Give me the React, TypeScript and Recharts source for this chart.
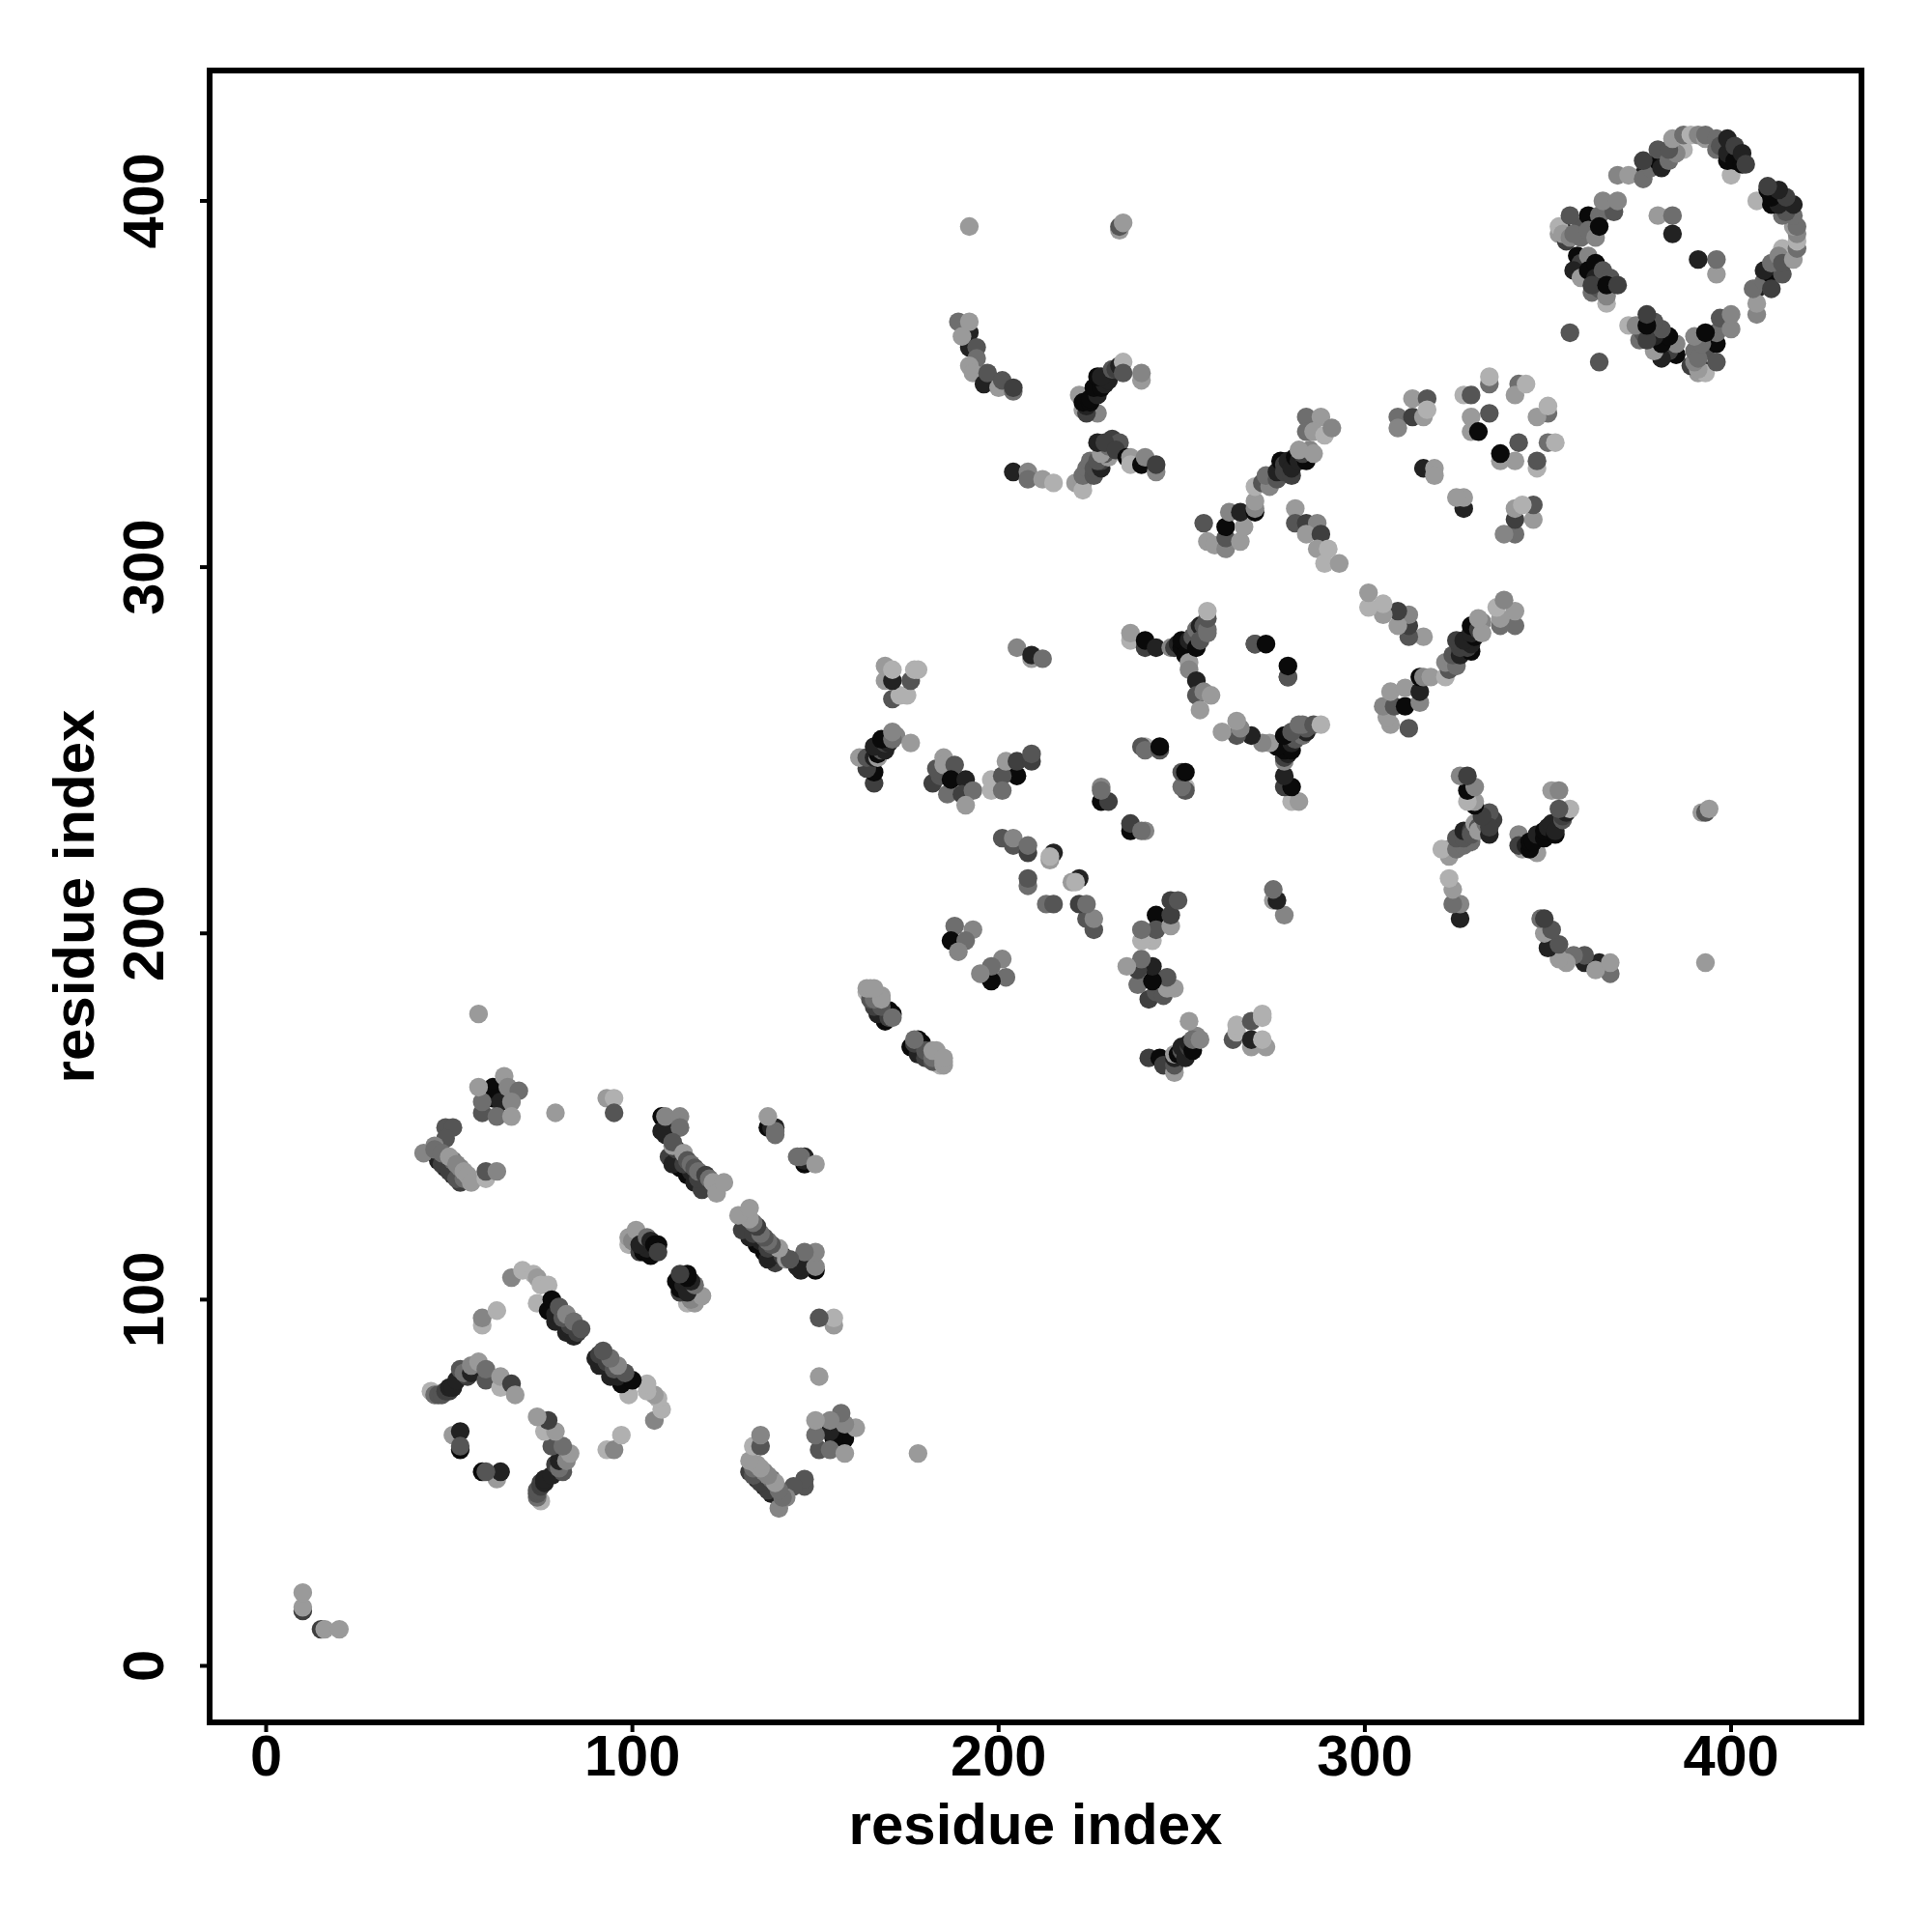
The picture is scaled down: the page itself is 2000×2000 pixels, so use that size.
import React from 'react';
import { ScatterChart, Scatter, XAxis, YAxis, ReferenceArea } from 'recharts';

// contact map, symmetric: each pair [i, j, level] is drawn at (i,j) and (j,i)
// level 0 = darkest, 7 = lightest
type Pair = [number, number, number];

const tickValues = [0, 100, 200, 300, 400];
const axisDomain = [-15.43, 435.6];
const axisTitle = 'residue index';
const greyLevels = ['#0a0a0a', '#222222', '#3f3f3f', '#555555', '#6e6e6e', '#858585', '#9a9a9a', '#b0b0b0'];

const nTerminal: Pair[] = [[10, 15, 2], [10, 16, 6], [10, 20, 6]];

const sheetA: Pair[] = [
  [47, 138, 1], [49, 136, 1], [51, 134, 1], [53, 132, 2], [48, 137, 2], [50, 135, 2], [52, 133, 3],
  [49, 147, 3], [51, 147, 3], [49, 144, 3],
  [43, 140, 5], [46, 142, 5], [46, 141, 4], [48, 140, 4], [51, 138, 4], [54, 133, 4], [53, 136, 5],
  [50, 139, 6], [52, 137, 5], [54, 135, 6], [55, 134, 6], [56, 132, 6],
  [60, 133, 7], [60, 135, 3], [63, 135, 5],
  [62, 158, 0], [62, 155, 0], [64, 154, 1], [59, 151, 3], [59, 154, 4], [63, 150, 4], [58, 158, 6],
  [65, 161, 6], [66, 158, 5], [69, 157, 4], [67, 154, 5], [67, 150, 6],
  [58, 178, 6], [79, 151, 6], [93, 155, 6], [95, 155, 7], [95, 151, 3],
];

const sheetB: Pair[] = [
  [108, 150, 0], [108, 146, 1], [111, 146, 1], [109, 145, 1], [113, 136, 0], [115, 134, 0], [117, 132, 1],
  [119, 130, 2], [110, 139, 2], [111, 137, 1], [112, 138, 1], [116, 135, 1], [118, 133, 2], [112, 141, 2],
  [114, 137, 2], [109, 150, 5], [113, 150, 5], [113, 147, 4], [111, 142, 6],
  [111, 143, 3], [114, 140, 6], [115, 138, 3], [116, 137, 4], [117, 136, 3], [118, 135, 4], [120, 134, 2],
  [121, 133, 4], [122, 132, 6], [123, 129, 6], [125, 132, 6],
  [137, 147, 0], [138, 147, 1], [139, 147, 1], [139, 146, 4], [139, 145, 4], [137, 150, 6],
];

const sheetC: Pair[] = [
  [67, 106, 5], [74, 99, 7], [70, 108, 7], [73, 107, 7], [74, 106, 6], [75, 104, 7], [77, 104, 7],
  [77, 97, 0], [79, 94, 1], [82, 91, 1], [84, 90, 1], [79, 96, 1], [83, 92, 1], [78, 100, 0], [85, 91, 2],
  [83, 93, 2], [81, 95, 3], [80, 98, 3], [82, 96, 5], [84, 94, 4], [86, 92, 3],
  [45, 75, 7], [46, 74, 4], [47, 74, 3], [48, 74, 3], [49, 75, 2], [50, 75, 2], [50, 76, 1], [51, 76, 1],
  [52, 78, 1], [53, 81, 3], [55, 79, 2], [54, 80, 4], [56, 80, 1], [56, 82, 5], [60, 78, 3],
  [58, 83, 6], [60, 81, 4], [64, 76, 7], [64, 79, 6], [67, 77, 2], [68, 74, 6],
  [51, 63, 6], [53, 59, 0], [53, 64, 1], [53, 60, 3], [59, 93, 7], [59, 95, 5], [63, 97, 7],
  [99, 115, 7], [99, 117, 6], [100, 116, 5], [101, 119, 6], [102, 113, 2], [103, 113, 0], [105, 112, 0],
  [104, 114, 1], [102, 115, 1], [104, 117, 4], [105, 116, 1], [106, 115, 0], [107, 115, 0], [107, 113, 2],
];

const sheetD: Pair[] = [
  [164, 184, 7], [170, 179, 0], [169, 176, 0], [171, 178, 0], [167, 178, 1], [168, 178, 1], [166, 180, 2],
  [170, 177, 2], [168, 180, 3], [165, 182, 3], [166, 182, 4],
  [164, 185, 6], [165, 185, 6], [168, 183, 6], [168, 182, 6], [166, 185, 6], [171, 177, 4],
  [188, 202, 4], [187, 198, 0], [193, 201, 5], [191, 198, 4], [189, 195, 5],
  [205, 278, 5], [209, 275, 6], [209, 276, 1], [212, 275, 4],
  [169, 273, 6], [169, 269, 6], [171, 264, 3], [173, 265, 7], [175, 265, 7], [171, 269, 1], [176, 269, 3],
  [171, 272, 7], [177, 272, 7], [178, 272, 7],
];

const sheetE: Pair[] = [
  [166, 241, 2], [166, 244, 0], [164, 245, 2], [162, 248, 6], [164, 248, 3], [166, 248, 1], [167, 248, 6],
  [167, 249, 0], [168, 250, 3], [169, 250, 1],
  [166, 251, 1], [169, 252, 2], [170, 252, 1], [168, 253, 0], [172, 254, 5], [171, 253, 4], [171, 255, 5], [176, 252, 6],
  [182, 241, 2], [184, 243, 3], [183, 245, 3], [185, 248, 6], [185, 246, 6], [188, 246, 3], [186, 238, 4],
  [187, 242, 0], [191, 242, 1], [190, 238, 2], [193, 239, 4], [191, 235, 6],
  [198, 242, 7], [198, 239, 7], [205, 243, 0], [201, 243, 3], [201, 239, 4], [202, 247, 6], [205, 247, 2],
  [209, 247, 2], [209, 249, 3],
  [215, 222, 1], [214, 220, 6], [201, 226, 3], [204, 224, 3], [204, 226, 5], [208, 222, 2], [208, 224, 4],
  [214, 221, 7], [208, 213, 4], [208, 215, 3],
  [228, 236, 0], [230, 236, 2], [228, 240, 5], [228, 239, 4],
  [240, 251, 7], [239, 251, 3], [240, 250, 4], [244, 250, 3], [244, 251, 0],
];

const sheetF: Pair[] = [
  [236, 280, 7], [236, 282, 6], [240, 278, 2], [240, 280, 0], [243, 278, 1], [247, 278, 5], [248, 278, 2],
  [249, 279, 1], [250, 278, 0], [250, 280, 0],
  [251, 276, 0], [252, 274, 6], [252, 272, 5], [252, 280, 1], [253, 281, 3], [254, 278, 0], [254, 283, 4],
  [255, 284, 1], [255, 280, 3], [256, 284, 3], [257, 283, 4], [257, 282, 4],
  [257, 286, 3], [257, 288, 7],
  [254, 269, 1], [254, 265, 3], [255, 261, 6], [256, 266, 5], [258, 265, 6],
  [270, 279, 2], [270, 279, 3], [273, 279, 0],
];

const sheetG: Pair[] = [
  [204, 326, 1], [208, 326, 5], [208, 324, 4], [212, 324, 6], [215, 323, 7],
  [221, 323, 6], [223, 323, 6], [223, 321, 7], [223, 325, 4], [224, 327, 4], [225, 328, 4], [225, 329, 4],
  [226, 325, 3], [226, 327, 3], [228, 327, 1], [228, 329, 2],
  [227, 329, 3], [230, 330, 6], [229, 331, 3], [228, 331, 6], [230, 333, 4], [231, 335, 2], [233, 334, 3],
  [227, 334, 1], [229, 334, 2], [232, 332, 2], [235, 330, 0], [236, 330, 6],
  [236, 328, 7], [239, 328, 0], [240, 330, 5], [243, 326, 5], [243, 328, 2],
  [223, 343, 6], [222, 347, 6], [227, 342, 5], [224, 342, 2], [224, 344, 1], [223, 345, 0], [225, 345, 0],
  [225, 346, 0], [227, 347, 1], [226, 349, 0], [228, 349, 0], [229, 350, 1], [230, 351, 1],
  [227, 352, 0], [228, 352, 1], [231, 354, 3], [232, 354, 2], [233, 355, 1], [234, 356, 7], [234, 353, 3],
  [239, 351, 6], [239, 353, 5],
  [192, 360, 1], [192, 364, 1], [189, 367, 4], [190, 363, 6], [192, 367, 6], [194, 360, 3], [194, 357, 4],
  [192, 355, 6], [193, 353, 6], [196, 350, 1], [197, 353, 3], [200, 349, 6], [201, 351, 3], [204, 348, 4], [204, 349, 2],
  [192, 393, 6], [233, 392, 6], [233, 393, 3], [234, 394, 6],
];

const sheetH: Pair[] = [
  [256, 312, 3], [257, 307, 6], [259, 306, 6], [262, 305, 5], [262, 308, 3], [262, 311, 0], [263, 315, 5],
  [266, 307, 6], [267, 311, 6], [266, 315, 1], [270, 315, 0], [270, 316, 5], [270, 318, 6], [270, 322, 7],
  [272, 323, 3], [274, 322, 5], [275, 324, 5], [273, 325, 4], [276, 324, 3], [276, 326, 1], [277, 329, 0],
  [278, 328, 2], [278, 326, 2], [279, 329, 1], [280, 325, 2], [280, 327, 1], [281, 330, 0], [282, 329, 1],
  [284, 329, 0], [283, 331, 2], [285, 332, 5],
  [282, 332, 6], [286, 331, 6],
  [284, 341, 4], [288, 341, 6], [284, 337, 4], [286, 337, 6], [289, 336, 7], [291, 338, 5],
  [281, 316, 6], [281, 312, 3], [284, 312, 2], [287, 312, 5], [284, 309, 6], [288, 309, 2], [287, 305, 6],
  [290, 305, 7], [289, 301, 7], [293, 301, 6],
];

const sheetI: Pair[] = [
  [309, 341, 4], [309, 338, 5], [313, 341, 2], [313, 346, 6], [316, 341, 6], [317, 346, 3], [317, 343, 7],
  [316, 327, 1], [319, 327, 6], [319, 325, 6],
  [327, 347, 7], [329, 347, 3], [334, 350, 4], [334, 352, 7], [342, 350, 4], [341, 347, 6], [344, 350, 7],
  [329, 341, 6], [334, 342, 3], [329, 337, 6], [331, 337, 0],
];

const ring: Pair[] = [
  [376, 407, 1], [369, 407, 5], [372, 407, 6], [376, 406, 4], [378, 409, 4], [380, 411, 0], [376, 411, 2],
  [381, 409, 1], [380, 414, 3], [383, 411, 4], [387, 414, 7], [385, 413, 5], [383, 414, 3], [384, 417, 6],
  [387, 418, 4], [389, 418, 7], [391, 418, 5], [393, 417, 6], [393, 418, 4],
  [400, 407, 7], [396, 414, 4], [396, 417, 4], [397, 415, 3], [399, 411, 0], [399, 413, 1], [399, 417, 1],
  [401, 411, 0], [401, 415, 2], [403, 410, 0], [403, 413, 1], [404, 410, 2],
  [353, 391, 6], [355, 389, 2], [354, 392, 1], [353, 393, 7], [354, 391, 6], [356, 390, 5], [359, 393, 3],
  [359, 390, 4], [361, 396, 0], [356, 396, 3], [357, 391, 4], [361, 392, 4], [363, 390, 5],
  [364, 396, 4], [364, 393, 0], [366, 398, 4], [368, 397, 3], [365, 400, 5], [369, 400, 5],
  [358, 385, 0], [359, 383, 2], [361, 385, 5], [357, 381, 1], [359, 379, 6], [361, 381, 0], [363, 383, 0],
  [363, 379, 1], [362, 375, 4], [364, 376, 3], [365, 381, 3], [367, 379, 3], [366, 372, 7], [366, 374, 5],
  [362, 377, 2], [366, 377, 0], [369, 377, 2],
  [380, 396, 6], [384, 396, 4], [384, 391, 1], [356, 364, 3],
];

const allPairs: Pair[] = [
  ...nTerminal, ...sheetA, ...sheetB, ...sheetC, ...sheetD, ...sheetE,
  ...sheetF, ...sheetG, ...sheetH, ...sheetI, ...ring,
];

const points = allPairs.flatMap(([i, j, level]) => [
  { x: i, y: j, level },
  { x: j, y: i, level },
]);

const fontFamily = '"Liberation Sans", Arial, sans-serif';

const XTick = ({ x, y, payload }: any) => (
  <text x={x} y={y + 43} textAnchor="middle" fontFamily={fontFamily} fontSize={59.5} fontWeight={700} fill="#000">
    {payload.value}
  </text>
);

const YTick = ({ x, y, payload }: any) => (
  <text
    transform={`translate(${x - 36}, ${y}) rotate(-90)`}
    textAnchor="middle"
    fontFamily={fontFamily}
    fontSize={59.5}
    fontWeight={700}
    fill="#000"
  >
    {payload.value}
  </text>
);

const Dot = ({ cx, cy, payload }: any) => <circle cx={cx} cy={cy} r={9.7} fill={greyLevels[payload.level]} />;

export default function App() {
  return (
    <div style={{ position: 'absolute', left: 0, top: 0, width: 2000, height: 2000, background: '#fff' }}>
      <ScatterChart width={2000} height={2000} margin={{ top: 73, right: 73, bottom: 0, left: 0 }}>
        <XAxis
          type="number"
          dataKey="x"
          domain={axisDomain}
          ticks={tickValues}
          allowDataOverflow
          height={217}
          axisLine={false}
          tickSize={10}
          tickLine={{ stroke: '#000', strokeWidth: 4 }}
          tick={<XTick />}
          label={{
            value: axisTitle,
            position: 'insideBottom',
            offset: 91,
            style: { fontFamily, fontSize: 60, fontWeight: 700, fill: '#000' },
          }}
        />
        <YAxis
          type="number"
          dataKey="y"
          domain={axisDomain}
          ticks={tickValues}
          allowDataOverflow
          width={217}
          axisLine={false}
          tickSize={10}
          tickLine={{ stroke: '#000', strokeWidth: 4 }}
          tick={<YTick />}
          label={{
            value: axisTitle,
            angle: -90,
            position: 'insideLeft',
            offset: 76,
            style: { fontFamily, fontSize: 60, fontWeight: 700, fill: '#000', textAnchor: 'middle' },
          }}
        />
        <ReferenceArea
          x1={axisDomain[0]}
          x2={axisDomain[1]}
          y1={axisDomain[0]}
          y2={axisDomain[1]}
          fill="none"
          stroke="#000"
          strokeWidth={6}
          ifOverflow="visible"
        />
        <Scatter data={points} shape={<Dot />} isAnimationActive={false} />
      </ScatterChart>
    </div>
  );
}
